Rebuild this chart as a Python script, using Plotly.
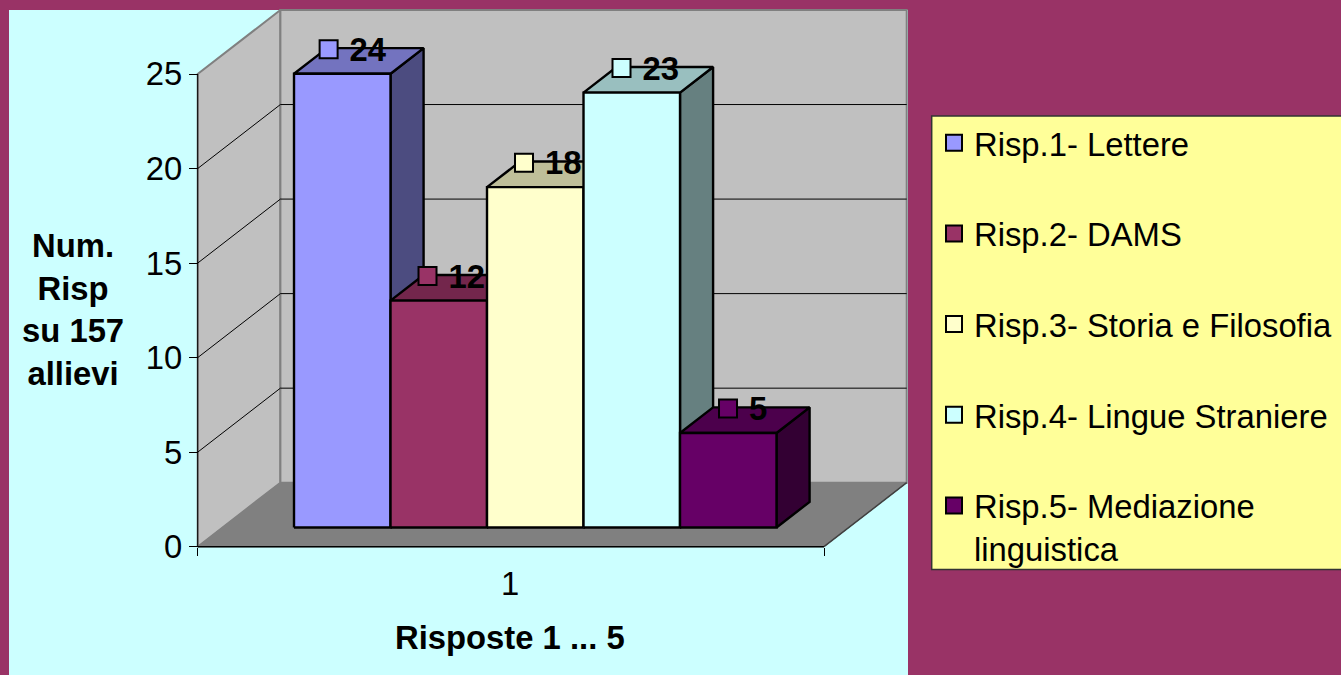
import plotly.graph_objects as go

# ---- data ----
series_names = ["Risp.1- Lettere", "Risp.2- DAMS", "Risp.3- Storia e Filosofia",
                "Risp.4- Lingue Straniere", "Risp.5- Mediazione<br>linguistica"]
series_values = [24, 12, 18, 23, 5]
category_label = "1"
y_ticks = [0, 5, 10, 15, 20, 25]
y_title = "<b>Num.<br>Risp<br>su 157<br>allievi</b>"
x_title = "<b>Risposte 1 ... 5</b>"
series_colors = ["#9999FF", "#993366", "#FFFFCC", "#CCFFFF", "#660066"]

# ---- layout / style constants ----
W, H = 1341, 675
X0_PX, X1_PX = 197.7, 824.0      # front edge of the floor
Y0_PX, Y25_PX = 546.7, 74.0      # value 0 and 25 on the front axis
PX_X = X1_PX - X0_PX             # pixels per x unit
PX_Y = (Y0_PX - Y25_PX) / 25     # pixels per value unit
DEPTH_X, DEPTH_Y = 82.7, 64.0    # oblique depth of the box in pixels
FONT = "Liberation Sans, Arial, sans-serif"
FS = 32.8
BAR_GAP = 71.5 / PX_X
BAR_W = 96.5 / PX_X
BAR_D0, BAR_D1 = 0.30, 0.70
MARK_DX = [34.6, 37, 37, 38, 48]  # label marker shift from the bar's front-left, px
MARK_DY = 24.5
LABEL_DX = 21                     # value label start, px right of the marker centre
LABEL_DY = -3.5                   # value label centre, px relative to the marker centre
xmin, xmax = -X0_PX / PX_X, (W - X0_PX) / PX_X
ymin, ymax = -(H - Y0_PX) / PX_Y, Y0_PX / PX_Y


def proj(x, v, d=0.0):
    """Oblique projection of (x, value, depth) onto the flat axes."""
    return x + d * DEPTH_X / PX_X, v + d * DEPTH_Y / PX_Y


def poly(pts, fill, line_color, line_width, name=""):
    xs, ys = zip(*[proj(*p) for p in pts + pts[:1]])
    return go.Scatter(x=xs, y=ys, mode="lines", fill="toself", fillcolor=fill,
                      line=dict(color=line_color, width=line_width),
                      showlegend=False, hoverinfo="skip", name=name)


def line(pts, color, width):
    xs, ys = zip(*[proj(*p) for p in pts])
    return go.Scatter(x=xs, y=ys, mode="lines", line=dict(color=color, width=width),
                      showlegend=False, hoverinfo="skip")


def shade(hex_color, k):
    r, g, b = (int(hex_color[i:i + 2], 16) for i in (1, 3, 5))
    return f"rgb({round(r * k)},{round(g * k)},{round(b * k)})"


top = y_ticks[-1]
fig = go.Figure()

# box walls and floor
fig.add_trace(poly([(0, 0, 0), (0, top, 0), (0, top, 1), (0, 0, 1)], "#C0C0C0", "#808080", 2))
fig.add_trace(poly([(0, 0, 1), (0, top, 1), (1, top, 1), (1, 0, 1)], "#C0C0C0", "#808080", 2))
fig.add_trace(poly([(0, 0, 0), (0, 0, 1), (1, 0, 1), (1, 0, 0)], "#808080", "#808080", 1))
for t in y_ticks[1:-1]:
    fig.add_trace(line([(0, t, 0), (0, t, 1), (1, t, 1)], "#000000", 1))
# axis lines
fig.add_trace(line([(0, 0, 0), (0, top, 0)], "#000000", 1))
fig.add_trace(line([(0, 0, 0), (1, 0, 0)], "#000000", 1.5))
fig.add_trace(line([(1, 0, 0), (1, 0, 1)], "#404040", 1.5))

# bars, left to right so that each front face covers the previous side face
for i, (v, c) in enumerate(zip(series_values, series_colors)):
    a = BAR_GAP + i * BAR_W
    b = a + BAR_W
    fig.add_trace(poly([(b, 0, BAR_D0), (b, v, BAR_D0), (b, v, BAR_D1), (b, 0, BAR_D1)],
                       shade(c, 0.5), "#000000", 2.4))
    fig.add_trace(poly([(a, v, BAR_D0), (a, v, BAR_D1), (b, v, BAR_D1), (b, v, BAR_D0)],
                       shade(c, 0.75), "#000000", 2.4))
    fig.add_trace(poly([(a, 0, BAR_D0), (a, v, BAR_D0), (b, v, BAR_D0), (b, 0, BAR_D0)],
                       c, "#000000", 2.4))

# value markers (also the legend entries) and value labels
for i, (n, v, c) in enumerate(zip(series_names, series_values, series_colors)):
    a = BAR_GAP + i * BAR_W
    mx, my = proj(a, v, BAR_D0)
    mx += MARK_DX[i] / PX_X
    my += MARK_DY / PX_Y
    fig.add_trace(go.Scatter(x=[mx + LABEL_DX / PX_X], y=[my + LABEL_DY / PX_Y], mode="text",
                             text=[f"<b>{v}</b>"], textposition="middle right",
                             showlegend=False, hoverinfo="skip",
                             textfont=dict(family=FONT, size=FS, color="#000000")))
    fig.add_trace(go.Scatter(x=[mx], y=[my], mode="markers", name=n, legendgroup=f"s{i}",
                             marker=dict(symbol="square", size=18, color=c,
                                         line=dict(color="#000000", width=2))))

fig.update_layout(
    width=W, height=H, margin=dict(l=0, r=0, t=0, b=0), autosize=False,
    paper_bgcolor="#993366", plot_bgcolor="rgba(0,0,0,0)",
    font=dict(family=FONT, size=FS, color="#000000"),
    xaxis=dict(range=[xmin, xmax], anchor="free", position=1 - Y0_PX / H, showgrid=False,
               zeroline=False, showline=False, tickmode="array", tickvals=[0, 1],
               showticklabels=False, ticks="outside", ticklen=8, tickcolor="#000000"),
    yaxis=dict(range=[ymin, ymax], anchor="free", position=X0_PX / W, showgrid=False,
               zeroline=False, showline=False, tickmode="array", tickvals=y_ticks,
               ticks="outside", ticklen=9, tickcolor="#000000",
               tickfont=dict(family=FONT, size=FS, color="#000000")),
    legend=dict(x=934 / W, y=1 - 115 / H, xanchor="left", yanchor="top", valign="top",
                bgcolor="rgba(0,0,0,0)", borderwidth=0, tracegroupgap=45,
                font=dict(family=FONT, size=FS, color="#000000")),
    shapes=[
        dict(type="rect", xref="paper", yref="paper", layer="below",
             x0=9 / W, x1=908 / W, y0=0, y1=1 - 10 / H, fillcolor="#CCFFFF", line_width=0),
        dict(type="rect", xref="paper", yref="paper", layer="below",
             x0=931.7 / W, x1=1342 / W, y0=1 - 569.5 / H, y1=1 - 116 / H,
             fillcolor="#FFFF99", line=dict(color="#333333", width=1.5)),
    ],
    annotations=[
        dict(xref="paper", yref="paper", x=73 / W, y=1 - 309.5 / H, text=y_title, showarrow=False,
             xanchor="center", yanchor="middle", align="center", font=dict(size=FS)),
        dict(xref="paper", yref="paper", x=510 / W, y=1 - 637 / H, text=x_title, showarrow=False,
             xanchor="center", yanchor="middle", font=dict(size=FS)),
        dict(xref="x", yref="paper", x=0.498, y=1 - 583 / H, text=category_label, showarrow=False,
             xanchor="center", yanchor="middle", font=dict(size=FS)),
    ],
)

fig.write_html("out.html", config={"displayModeBar": False},
               post_script="document.body.style.margin='0';document.body.style.overflow='hidden';")
